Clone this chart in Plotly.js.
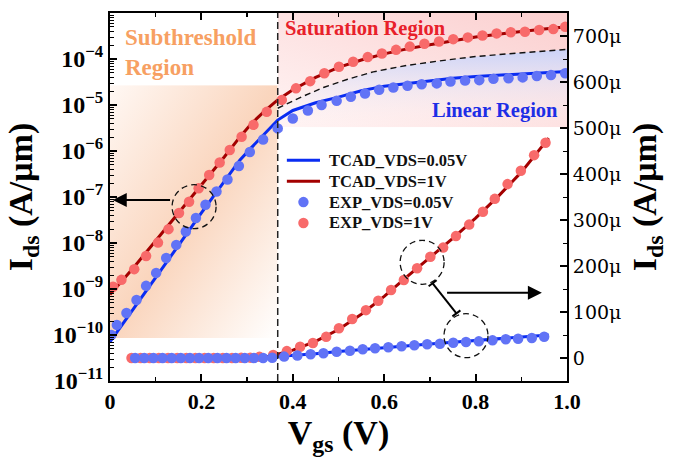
<!DOCTYPE html>
<html>
<head>
<meta charset="utf-8">
<script src="https://cdn.plot.ly/plotly-3.0.1.min.js"></script>
<style>html,body{margin:0;padding:0;background:#fff;}#chart{width:688px;height:460px;}</style>
</head>
<body>
<div id="chart"></div>
<script>
// ---------------- DATA ----------------
// Region boundaries
const V_BOUNDARY_X = 0.367;          // vertical dashed line (V)
const I_SUB_TOP = 2.7e-5;            // subthreshold shading top (A/um)
const I_SUB_BOTTOM = 8.6e-11;        // subthreshold shading bottom (A/um)
const I_LIN_FLOOR = 3.3e-6;          // saturation/linear shading floor (A/um)
const I_LOG_MAX = 1e-3, I_LOG_MIN = 1e-11;

// TCAD curves on log axis (A/um)
const V_TCAD_LOG = [0,0.05,0.1,0.15,0.2,0.25,0.284,0.31,0.34,0.367,0.4,0.45,0.5,0.55,0.6,0.65,0.7,0.75,0.8,0.85,0.9,0.95,1.0];
const I_TCAD_005_LOG = [7.1e-11,3.5e-10,1.8e-9,8.9e-9,4.5e-8,2.2e-7,6.3e-7,1.2e-6,2.5e-6,4.7e-6,7.6e-6,1.12e-5,1.48e-5,2.04e-5,2.57e-5,2.95e-5,3.39e-5,3.8e-5,4.17e-5,4.47e-5,4.79e-5,5.01e-5,5.37e-5];
const I_TCAD_1_LOG = [7.6e-10,2.8e-9,1.12e-8,4.5e-8,1.78e-7,7.4e-7,2.0e-6,4.0e-6,7.6e-6,1.29e-5,2.14e-5,3.98e-5,6.6e-5,9.5e-5,1.29e-4,1.66e-4,2.04e-4,2.51e-4,3.02e-4,3.47e-4,3.98e-4,4.47e-4,5.0e-4];

// Experimental points on log axis (A/um)
const V_EXP_005_LOG = [0.003,0.015,0.036,0.058,0.079,0.101,0.123,0.145,0.166,0.188,0.209,0.233,0.257,0.282,0.306,0.335,0.367,0.400,0.433,0.463,0.496,0.527,0.558,0.589,0.620,0.651,0.682,0.715,0.745,0.777,0.808,0.839,0.872,0.903,0.934,0.965,0.996];
const I_EXP_005_LOG = [1.0e-10,1.66e-10,3.0e-10,5.75e-10,1.17e-9,2.24e-9,4.7e-9,9.1e-9,1.78e-8,3.5e-8,6.8e-8,1.32e-7,2.4e-7,4.7e-7,9.5e-7,1.78e-6,3.1e-6,5.1e-6,7.6e-6,1.0e-5,1.23e-5,1.51e-5,1.78e-5,2.14e-5,2.4e-5,2.63e-5,2.82e-5,2.95e-5,3.24e-5,3.39e-5,3.47e-5,3.7e-5,3.8e-5,3.98e-5,4.27e-5,4.47e-5,4.9e-5];
const V_EXP_1_LOG = [0.007,0.025,0.053,0.079,0.105,0.128,0.151,0.173,0.194,0.217,0.240,0.262,0.288,0.314,0.343,0.376,0.407,0.438,0.469,0.501,0.532,0.564,0.595,0.626,0.656,0.688,0.720,0.751,0.783,0.815,0.846,0.877,0.908,0.939,0.970,0.996];
const I_EXP_1_LOG = [1.12e-9,1.58e-9,2.7e-9,5.2e-9,1.02e-8,2.0e-8,4.5e-8,7.9e-8,1.55e-7,3.0e-7,5.6e-7,1.05e-6,2.04e-6,3.7e-6,7.1e-6,1.29e-5,2.3e-5,3.3e-5,4.9e-5,6.8e-5,8.7e-5,1.1e-4,1.32e-4,1.58e-4,1.86e-4,2.14e-4,2.4e-4,2.7e-4,2.95e-4,3.24e-4,3.6e-4,3.8e-4,3.9e-4,4.27e-4,4.47e-4,5.0e-4];

// Saturation / linear boundary (dashed curve, A/um)
const V_SAT_BOUND = [0.367,0.42,0.467,0.52,0.576,0.649,0.722,0.795,0.868,0.941,1.0];
const I_SAT_BOUND = [8.5e-6,1.51e-5,2.4e-5,3.63e-5,5.25e-5,7.24e-5,9.1e-5,1.12e-4,1.29e-4,1.48e-4,1.62e-4];

// TCAD curves on linear axis (uA/um)
const V_TCAD_LIN = [0.05,0.1,0.15,0.2,0.25,0.3,0.35,0.4,0.45,0.5,0.55,0.6,0.65,0.7,0.75,0.8,0.85,0.9,0.96];
const I_TCAD_005_LIN = [0,0,0,0,0.2,0.6,2,5,9.5,14,18.5,22.5,26.5,30.5,34.5,38.5,42,46,50];
const I_TCAD_1_LIN = [0,0,0,0,0.2,1,4,17,36,62,95,134,177,218,260,304,352,404,478];

// Experimental points on linear axis (uA/um)
const V_EXP_005_LIN = [0.055,0.075,0.095,0.115,0.135,0.155,0.175,0.195,0.215,0.235,0.255,0.275,0.295,0.315,0.335,0.355,0.381,0.410,0.439,0.467,0.496,0.525,0.553,0.580,0.609,0.638,0.666,0.694,0.722,0.751,0.779,0.807,0.837,0.866,0.893,0.923,0.950];
const I_EXP_005_LIN = [0,0,0,0,0,0,0,0,0,0,0,0,0,0,0,0.5,3,5.5,8,10.5,13.5,15.9,18.9,21.1,23.3,25.4,27.6,29.8,31.1,33.3,34.8,36.2,38.4,40.6,41.9,43.5,46.3];
const V_EXP_1_LIN = [0.047,0.067,0.087,0.107,0.127,0.147,0.167,0.187,0.207,0.227,0.247,0.267,0.287,0.307,0.327,0.357,0.387,0.416,0.444,0.473,0.501,0.530,0.560,0.587,0.615,0.643,0.672,0.701,0.729,0.757,0.786,0.816,0.842,0.870,0.899,0.928,0.953];
const I_EXP_1_LIN = [0,0,0,0,0,0,0,0,0,0,0,0,0.3,0.8,2.5,6.5,15,24.6,32.5,46,64.5,84.8,104,124.6,147.8,169.6,195,220,240,265,290,318,346,378,407,441,468];

// Axis ticks
const X_TICK_VALS = [0,0.2,0.4,0.6,0.8,1.0];
const X_TICK_TEXT = ['0','0.2','0.4','0.6','0.8','1.0'];
const LOG_TICK_VALS = [1e-11,1e-10,1e-9,1e-8,1e-7,1e-6,1e-5,1e-4,1e-3];
const LOG_TICK_TEXT = ['10<sup>−11</sup>','10<sup>−10</sup>','10<sup>−9</sup>','10<sup>−8</sup>','10<sup>−7</sup>','10<sup>−6</sup>','10<sup>−5</sup>','10<sup>−4</sup>','10<sup>−3</sup>'];
const LIN_TICK_VALS = [0,100,200,300,400,500,600,700];
const LIN_TICK_TEXT = ['0','100μ','200μ','300μ','400μ','500μ','600μ','700μ'];

// Legend entries
const LEGEND_NAMES = ['TCAD_VDS=0.05V','TCAD_VDS=1V','EXP_VDS=0.05V','EXP_VDS=1V'];

// ---------------- STYLE ----------------
const BLUE_LINE = '#0a2cf2', RED_LINE = '#a30000';
const BLUE_DOT = '#6173f6', RED_DOT = '#f86a6a';
const SERIF = 'Liberation Serif, Times New Roman, serif';
const LEGEND_STYLE = [
  {kind:'line', color:BLUE_LINE}, {kind:'line', color:RED_LINE},
  {kind:'dot', color:BLUE_DOT}, {kind:'dot', color:RED_DOT}
];

function svgUri(svg){ return 'data:image/svg+xml;base64,' + btoa(svg); }
const orangeSvg = "<svg xmlns='http://www.w3.org/2000/svg' width='200' height='200' viewBox='0 0 200 200' preserveAspectRatio='none'><defs><linearGradient id='g' x1='0' y1='0' x2='1' y2='1'><stop offset='0' stop-color='#fff8f4'/><stop offset='0.5' stop-color='#fad5bd'/><stop offset='1' stop-color='#ffffff'/></linearGradient></defs><rect width='200' height='200' fill='url(#g)'/></svg>";
const pinkSvg = "<svg xmlns='http://www.w3.org/2000/svg' width='200' height='200' viewBox='0 0 200 200' preserveAspectRatio='none'><defs><linearGradient id='g' x1='0' y1='1' x2='1' y2='0'><stop offset='0' stop-color='#fff4f4'/><stop offset='1' stop-color='#fbcfcf'/></linearGradient></defs><rect width='200' height='200' fill='url(#g)'/></svg>";

const traces = [];
traces.push({
  x: V_SAT_BOUND.concat([V_SAT_BOUND[V_SAT_BOUND.length-1], V_SAT_BOUND[0]]),
  y: I_SAT_BOUND.concat([I_LIN_FLOOR, I_LIN_FLOOR]),
  xaxis:'x', yaxis:'y', mode:'lines', line:{width:0}, fill:'toself',
  fillgradient:{type:'vertical', colorscale:[[0,'rgba(255,255,255,0.0)'],[1,'rgba(203,211,248,1)']]},
  showlegend:false, hoverinfo:'skip'
});
traces.push({x:V_SAT_BOUND, y:I_SAT_BOUND, xaxis:'x', yaxis:'y', mode:'lines',
  line:{color:'#111', width:1.4, dash:'6px,4px'}, showlegend:false, hoverinfo:'skip'});
traces.push({x:V_TCAD_LOG, y:I_TCAD_005_LOG, xaxis:'x', yaxis:'y', mode:'lines', name:LEGEND_NAMES[0],
  line:{color:BLUE_LINE, width:3}});
traces.push({x:V_TCAD_LOG, y:I_TCAD_1_LOG, xaxis:'x', yaxis:'y', mode:'lines', name:LEGEND_NAMES[1],
  line:{color:RED_LINE, width:3}});
traces.push({x:V_EXP_1_LOG, y:I_EXP_1_LOG, xaxis:'x', yaxis:'y', mode:'markers', name:LEGEND_NAMES[3],
  marker:{color:RED_DOT, size:10.5}});
traces.push({x:V_EXP_005_LOG, y:I_EXP_005_LOG, xaxis:'x', yaxis:'y', mode:'markers', name:LEGEND_NAMES[2],
  marker:{color:BLUE_DOT, size:10.5}});
traces.push({x:V_TCAD_LIN, y:I_TCAD_005_LIN, xaxis:'x', yaxis:'y2', mode:'lines', name:LEGEND_NAMES[0],
  line:{color:BLUE_LINE, width:3}});
traces.push({x:V_TCAD_LIN, y:I_TCAD_1_LIN, xaxis:'x', yaxis:'y2', mode:'lines', name:LEGEND_NAMES[1],
  line:{color:RED_LINE, width:3}});
traces.push({x:V_EXP_1_LIN, y:I_EXP_1_LIN, xaxis:'x', yaxis:'y2', mode:'markers', name:LEGEND_NAMES[3],
  marker:{color:RED_DOT, size:10.5}});
traces.push({x:V_EXP_005_LIN, y:I_EXP_005_LIN, xaxis:'x', yaxis:'y2', mode:'markers', name:LEGEND_NAMES[2],
  marker:{color:BLUE_DOT, size:10.5}});

const dashCircle = (xc, yc, r) => ({type:'circle', xref:'x', yref:'y2', xsizemode:'pixel', ysizemode:'pixel',
  xanchor:xc, yanchor:yc, x0:-r, x1:r, y0:-r, y1:r, line:{color:'#111', width:1.3, dash:'6px,4px'}});

// Manual legend (tight rows as in the reference)
const LEG_ROW_Y = [430, 384.5, 339, 293.5];   // y2 units
const LEG_X0 = 0.387, LEG_X1 = 0.4595, LEG_TEXT_X = 0.474;
const legendShapes = [], legendAnn = [];
LEGEND_NAMES.forEach((nm, i) => {
  const st = LEGEND_STYLE[i];
  if (st.kind === 'line') {
    legendShapes.push({type:'line', xref:'x', yref:'y2', x0:LEG_X0, x1:LEG_X1, y0:LEG_ROW_Y[i], y1:LEG_ROW_Y[i],
      line:{color:st.color, width:3}});
  } else {
    legendShapes.push({type:'circle', xref:'x', yref:'y2', xsizemode:'pixel', ysizemode:'pixel',
      xanchor:(LEG_X0+LEG_X1)/2, yanchor:LEG_ROW_Y[i], x0:-5.2, x1:5.2, y0:-5.2, y1:5.2,
      fillcolor:st.color, line:{width:0}});
  }
  legendAnn.push({text:'<b>'+nm+'</b>', xref:'x', yref:'y2', x:LEG_TEXT_X, y:LEG_ROW_Y[i], xanchor:'left', yanchor:'middle',
    showarrow:false, font:{family:SERIF, size:16.5, color:'#111'}});
});

const L = v => Math.log10(v);
const layout = {
  width:688, height:460,
  margin:{l:110, r:121, t:13, b:79},
  paper_bgcolor:'#fff', plot_bgcolor:'rgba(0,0,0,0)',
  showlegend:false,
  xaxis:{range:[0,1.0], tickmode:'array', tickvals:X_TICK_VALS, ticktext:X_TICK_TEXT,
    ticks:'inside', ticklen:7, tickwidth:2, tickcolor:'#000', showline:true, linewidth:2, linecolor:'#000',
    mirror:'ticks', showgrid:false, zeroline:false,
    minor:{ticks:'inside', ticklen:4, tickwidth:1.5, dtick:0.1, tick0:0, tickcolor:'#000', showgrid:false},
    tickfont:{family:SERIF, size:22, color:'#000', weight:'bold'},
    title:{text:'<b>V<sub>gs</sub> (V)</b>', font:{family:SERIF, size:34, color:'#000'}, standoff:4}},
  yaxis:{type:'log', range:[L(I_LOG_MIN), L(I_LOG_MAX)], tickmode:'array', tickvals:LOG_TICK_VALS, ticktext:LOG_TICK_TEXT,
    ticks:'inside', ticklen:7, tickwidth:2, tickcolor:'#000', showline:true, linewidth:2, linecolor:'#000',
    showgrid:false, zeroline:false,
    minor:{ticks:'inside', ticklen:4, tickwidth:1, dtick:'D1', tickcolor:'#000', showgrid:false},
    tickfont:{family:SERIF, size:24, color:'#000', weight:'bold'},
    title:{text:'<b>I<sub>ds</sub> (A/μm)</b>', font:{family:SERIF, size:34, color:'#000'}, standoff:10}},
  yaxis2:{overlaying:'y', side:'right', range:[-50,750], tickmode:'array', tickvals:LIN_TICK_VALS, ticktext:LIN_TICK_TEXT,
    ticks:'inside', ticklen:7, tickwidth:2, tickcolor:'#000', showline:true, linewidth:2, linecolor:'#000',
    showgrid:false, zeroline:false,
    minor:{ticks:'inside', ticklen:4, tickwidth:1, dtick:50, tick0:0, tickcolor:'#000', showgrid:false},
    tickfont:{family:'DejaVu Serif, serif', size:19, color:'#000'},
    title:{text:'<b>I<sub>ds</sub> (A/μm)</b>', font:{family:SERIF, size:34, color:'#000'}, standoff:12}},
  images:[
    {source:svgUri(orangeSvg), xref:'x', yref:'y', x:0, y:L(I_SUB_TOP), sizex:V_BOUNDARY_X, sizey:L(I_SUB_TOP)-L(I_SUB_BOTTOM),
      xanchor:'left', yanchor:'top', sizing:'stretch', layer:'below'},
    {source:svgUri(pinkSvg), xref:'x', yref:'y', x:V_BOUNDARY_X, y:L(I_LOG_MAX), sizex:1.0-V_BOUNDARY_X, sizey:L(I_LOG_MAX)-L(I_LIN_FLOOR),
      xanchor:'left', yanchor:'top', sizing:'stretch', layer:'below'}
  ],
  shapes:[
    {type:'line', xref:'x', yref:'paper', x0:V_BOUNDARY_X, x1:V_BOUNDARY_X, y0:0, y1:1,
      line:{color:'#222', width:1.5, dash:'7px,4px'}},
    dashCircle(0.184, 329, 22),
    dashCircle(0.683, 208, 22),
    dashCircle(0.779, 48.5, 22),
    {type:'line', xref:'x', yref:'y2', x0:0.706, y0:162.4, x1:0.758, y1:97, line:{color:'#000', width:2}},
    {type:'line', xref:'x', yref:'y2', xsizemode:'pixel', ysizemode:'pixel', xanchor:0.706, yanchor:162.4,
      x0:-4, y0:-3, x1:4, y1:3, line:{color:'#000', width:2}},
    {type:'line', xref:'x', yref:'y2', xsizemode:'pixel', ysizemode:'pixel', xanchor:0.758, yanchor:97,
      x0:-4, y0:-3, x1:4, y1:3, line:{color:'#000', width:2}}
  ].concat(legendShapes),
  annotations:[
    {text:'<b>Subthreshold<br>Region</b>', xref:'x', yref:'y2', x:0.028, y:665, xanchor:'left', yanchor:'middle',
      align:'left', showarrow:false, font:{family:SERIF, size:23, color:'#f7a062'}},
    {text:'<b>Saturation Region</b>', xref:'x', yref:'y2', x:0.558, y:717, xanchor:'center', yanchor:'middle',
      showarrow:false, font:{family:SERIF, size:20.5, color:'#e8202a'}},
    {text:'<b>Linear Region</b>', xref:'x', yref:'y2', x:0.842, y:539, xanchor:'center', yanchor:'middle',
      showarrow:false, font:{family:SERIF, size:20.5, color:'#1d2ee6'}},
    {text:' ', xref:'x', yref:'y2', axref:'x', ayref:'y2', x:0.006, y:343.5, ax:0.138, ay:343.5,
      showarrow:true, arrowhead:2, arrowsize:1.4, arrowwidth:2, arrowcolor:'#000'},
    {text:' ', xref:'x', yref:'y2', axref:'x', ayref:'y2', x:0.945, y:142, ax:0.731, ay:142,
      showarrow:true, arrowhead:2, arrowsize:1.4, arrowwidth:2, arrowcolor:'#000'}
  ].concat(legendAnn)
};

Plotly.newPlot('chart', traces, layout, {displayModeBar:false, staticPlot:true});
</script>
</body>
</html>
